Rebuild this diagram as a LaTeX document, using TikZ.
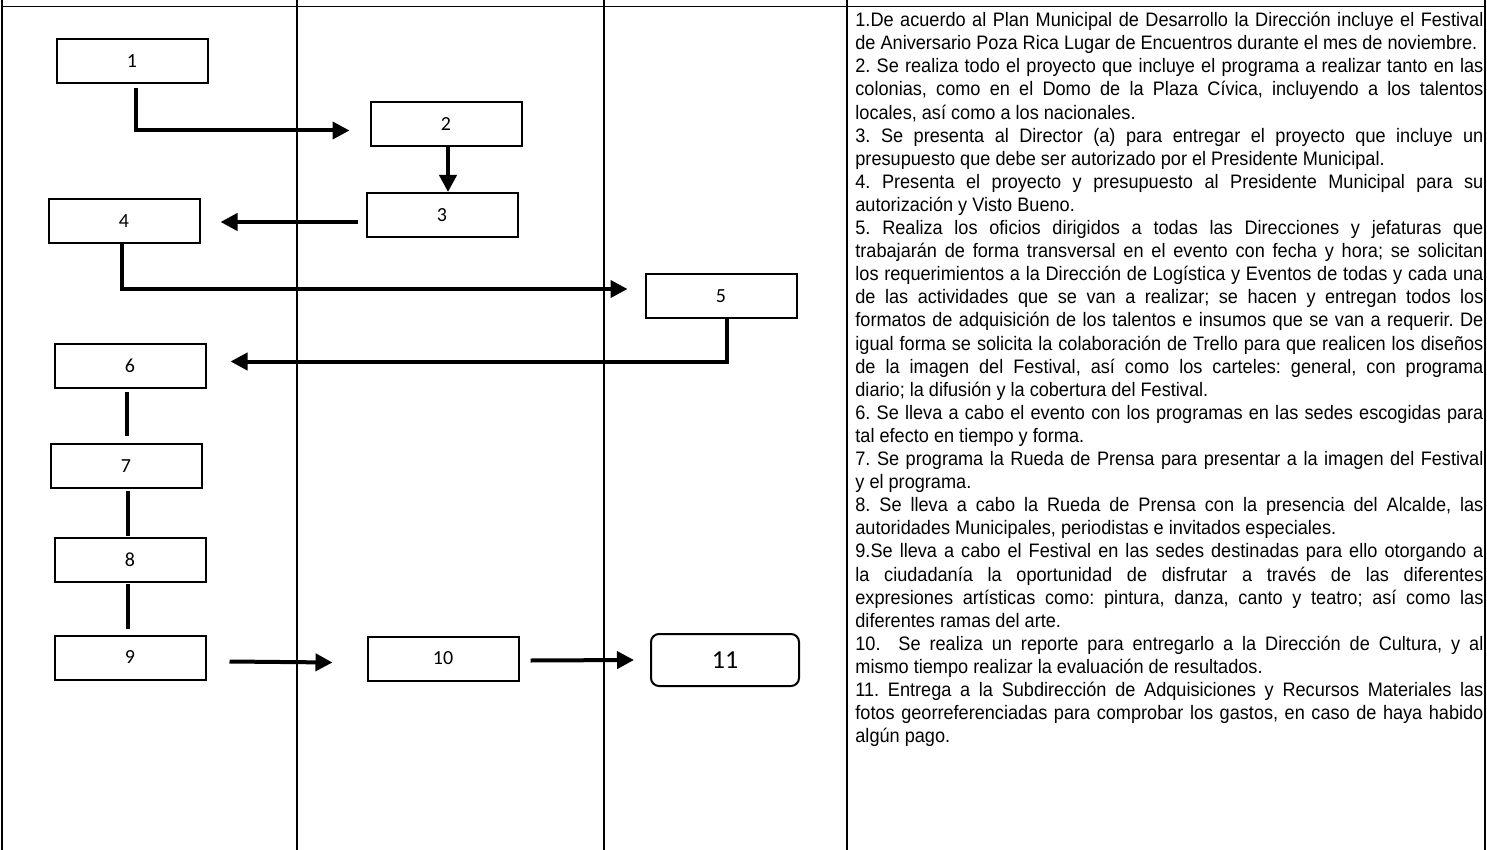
\documentclass[tikz,border=0pt]{standalone}
\usepackage{fontspec}
\setmainfont{Liberation Sans}[FakeStretch=0.93]
\newfontfamily\boxfont{Carlito}
\usetikzlibrary{arrows.meta}

\begin{document}
\begin{tikzpicture}[x=0.5pt, y=-0.5pt,
	paso/.style={draw, line width=1pt, minimum width=75.5pt, minimum height=22pt, inner sep=0pt, font=\boxfont\fontsize{10pt}{12pt}\selectfont},
	flecha/.style={line width=2pt, -{Triangle[length=8.5pt, width=8.5pt]}},
	liga/.style={line width=2pt}]
	\useasboundingbox (0,0) rectangle (1487,850);
	\draw[line width=0.85pt] (2,6.5) -- (1485,6.5);
	\draw[line width=0.8pt] (2,0) -- (2,850) (297,0) -- (297,850) (604,0) -- (604,850) (1485,0) -- (1485,850);
	\draw[line width=1.3pt] (847,0) -- (847,850);

	\node[paso] (p1) at (132,61) {1};
	\node[paso] (p2) at (446,124.5) {2};
	\node[paso] (p3) at (442,215) {3};
	\node[paso] (p4) at (124,221) {4};
	\node[paso] (p5) at (721,296) {5};
	\node[paso] (p6) at (130,365.5) {6};
	\node[paso] (p7) at (126,466) {7};
	\node[paso] (p8) at (130,559.5) {8};
	\node[paso] (p9) at (130,657.5) {9};
	\node[paso] (p10) at (443,658.5) {10};
	\node[paso, rounded corners=4pt, minimum width=74pt, minimum height=26pt, font=\boxfont\fontsize{13pt}{15pt}\selectfont] (p11) at (725,660) {11};

	\draw[flecha] ([xshift=2pt,yshift=-2pt]p1.south) |- ([xshift=-10pt,yshift=-3pt]p2.west);
	\draw[flecha] ([xshift=1pt]p2.south) -- ([xshift=1pt]p2.south |- p3.north);
	\draw[flecha] ([xshift=-4pt,yshift=-3.5pt]p3.west) -- ([xshift=10pt,yshift=-0.5pt]p4.east);
	\draw[flecha] ([xshift=-1pt]p4.south) |- ([xshift=-8.5pt,yshift=3.5pt]p5.west);
	\draw[flecha] ([xshift=3pt]p5.south) |- ([xshift=12pt,yshift=2pt]p6.east);
	\draw[liga] ([xshift=-1.5pt,yshift=-1.5pt]p6.south) -- ([xshift=-1.5pt,yshift=3.5pt]p6.south |- p7.north);
	\draw[liga] ([xshift=1pt,yshift=-1pt]p7.south) -- ([xshift=-1pt,yshift=0.5pt]p8.north);
	\draw[liga] ([xshift=-1pt,yshift=-0.5pt]p8.south) -- ([xshift=-1pt,yshift=3pt]p9.north);
	\draw[flecha] ([xshift=11.5pt,yshift=-2pt]p9.east) -- ([xshift=-17pt,yshift=-2pt]p10.west);
	\draw[flecha] ([xshift=5.5pt,yshift=-1pt]p10.east) -- ([xshift=-8pt]p11.west);

	\node[anchor=base west, inner sep=0pt] (texto) at (855,26.7) {\parbox[t]{314pt}{\fontsize{9.75pt}{11.55pt}\selectfont
		\frenchspacing\pretolerance=10000 \tolerance=10000
		1.De acuerdo al Plan Municipal de Desarrollo la Dirección incluye el Festival\linebreak
		de Aniversario Poza Rica Lugar de Encuentros durante el mes de noviembre.\par
		2. Se realiza todo el proyecto que incluye el programa a realizar tanto en las\linebreak
		colonias, como en el Domo de la Plaza Cívica, incluyendo a los talentos\linebreak
		locales, así como a los nacionales.\par
		3. Se presenta al Director (a) para entregar el proyecto que incluye un\linebreak
		presupuesto que debe ser autorizado por el Presidente Municipal.\par
		4. Presenta el proyecto y presupuesto al Presidente Municipal para su\linebreak
		autorización y Visto Bueno.\par
		5. Realiza los oficios dirigidos a todas las Direcciones y jefaturas que\linebreak
		trabajarán de forma transversal en el evento con fecha y hora; se solicitan\linebreak
		los requerimientos a la Dirección de Logística y Eventos de todas y cada una\linebreak
		de las actividades que se van a realizar; se hacen y entregan todos los\linebreak
		formatos de adquisición de los talentos e insumos que se van a requerir. De\linebreak
		igual forma se solicita la colaboración de Trello para que realicen los diseños\linebreak
		de la imagen del Festival, así como los carteles: general, con programa\linebreak
		diario; la difusión y la cobertura del Festival.\par
		6. Se lleva a cabo el evento con los programas en las sedes escogidas para\linebreak
		tal efecto en tiempo y forma.\par
		7. Se programa la Rueda de Prensa para presentar a la imagen del Festival\linebreak
		y el programa.\par
		8. Se lleva a cabo la Rueda de Prensa con la presencia del Alcalde, las\linebreak
		autoridades Municipales, periodistas e invitados especiales.\par
		9.Se lleva a cabo el Festival en las sedes destinadas para ello otorgando a\linebreak
		la ciudadanía la oportunidad de disfrutar a través de las diferentes\linebreak
		expresiones artísticas como: pintura, danza, canto y teatro; así como las\linebreak
		diferentes ramas del arte.\par
		10.\ \ Se realiza un reporte para entregarlo a la Dirección de Cultura, y al\linebreak
		mismo tiempo realizar la evaluación de resultados.\par
		11. Entrega a la Subdirección de Adquisiciones y Recursos Materiales las\linebreak
		fotos georreferenciadas para comprobar los gastos, en caso de haya habido\linebreak
		algún pago.}};
\end{tikzpicture}
\end{document}
